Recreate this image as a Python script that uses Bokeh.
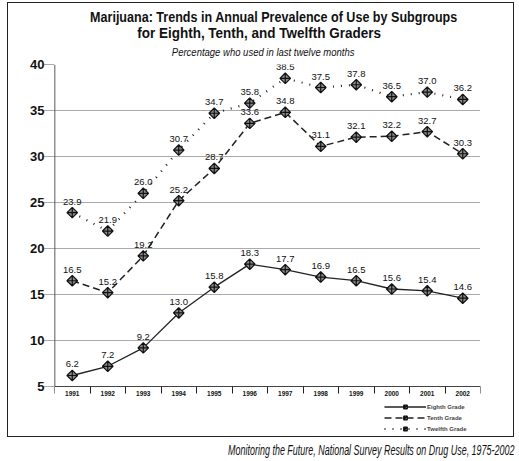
import math
from bokeh.plotting import figure
from bokeh.models import (Range1d, FixedTicker, Legend, LegendItem,
                          ColumnDataSource, Div)
from bokeh.layouts import column
from bokeh.embed import file_html
from bokeh.resources import INLINE

years = [1991, 1992, 1993, 1994, 1995, 1996, 1997, 1998, 1999, 2000, 2001, 2002]
eighth = [6.2, 7.2, 9.2, 13.0, 15.8, 18.3, 17.7, 16.9, 16.5, 15.6, 15.4, 14.6]
tenth = [16.5, 15.2, 19.2, 25.2, 28.7, 33.6, 34.8, 31.1, 32.1, 32.2, 32.7, 30.3]
twelfth = [23.9, 21.9, 26.0, 30.7, 34.7, 35.8, 38.5, 37.5, 37.8, 36.5, 37.0, 36.2]
series_names = ["Eighth Grade", "Tenth Grade", "Twelfth Grade"]
y_ticks = [5, 10, 15, 20, 25, 30, 35, 40]
title_1 = "Marijuana: Trends in Annual Prevalence of Use by Subgroups"
title_2 = "for Eighth, Tenth, and Twelfth Graders"
subtitle = "Percentage who used in last twelve months"
source_note = "Monitoring the Future, National Survey Results on Drug Use, 1975-2002"

FONT = "Liberation Sans"

# ---- heading block (HTML, horizontally condensed) ----
head_html = (
    f'<div style="font-family:{FONT};color:#111;text-align:center;width:505px;">'
    f'<div style="height:6px"></div>'
    f'<div style="font-weight:bold;font-size:15.5px;line-height:16px;white-space:nowrap;">'
    f'<span style="display:inline-block;transform:translateX(13px) scaleX(0.81);">{title_1}</span></div>'
    f'<div style="font-weight:bold;font-size:15.5px;line-height:16px;white-space:nowrap;">'
    f'<span style="display:inline-block;transform:translateX(-1px) scaleX(0.87);">{title_2}</span></div>'
    f'<div style="height:6px"></div>'
    f'<div style="font-style:italic;font-size:10px;line-height:11px;white-space:nowrap;">'
    f'<span style="display:inline-block;transform:translateX(3px) scaleX(0.95);">{subtitle}</span></div>'
    f'</div>'
)
head = Div(text=head_html, width=505, height=55, margin=0)

x_lo, x_hi = years[0] - 0.5, years[-1] + 0.5
p = figure(width=505, height=378, output_backend="svg", toolbar_location=None,
           x_range=Range1d(x_lo, x_hi),
           y_range=Range1d(-0.43, y_ticks[-1]),
           min_border_left=46, min_border_right=33, min_border_top=6,
           min_border_bottom=0, margin=0)
p.outline_line_color = None
p.background_fill_color = "white"
p.border_fill_color = "white"

# x axis sits at the lowest y tick, inside the frame
p.xaxis.fixed_location = y_ticks[0]
p.xaxis.ticker = FixedTicker(ticks=years,
                             minor_ticks=[y - 0.5 for y in years] + [x_hi])
p.xaxis.major_tick_out = 0
p.xaxis.major_tick_in = 0
p.xaxis.minor_tick_out = 7
p.xaxis.minor_tick_in = 0
p.xaxis.minor_tick_line_color = "#222"
p.xaxis.axis_line_color = "#444"
p.xaxis.major_label_text_font = FONT
p.xaxis.major_label_text_font_style = "bold"
p.xaxis.major_label_text_font_size = "6.5px"
p.xaxis.major_label_standoff = -3
p.xaxis.major_label_text_color = "#111"

p.yaxis.ticker = FixedTicker(ticks=y_ticks)
p.yaxis.minor_tick_line_color = None
p.yaxis.major_tick_out = 10
p.yaxis.major_tick_in = 0
p.yaxis.major_tick_line_color = "#555"
p.yaxis.major_tick_line_dash = "1 1"
p.yaxis.axis_line_color = None
p.yaxis.major_label_text_font = FONT
p.yaxis.major_label_text_font_style = "bold"
p.yaxis.major_label_text_font_size = "13px"
p.yaxis.major_label_text_baseline = "bottom"
p.yaxis.major_label_standoff = 0
p.yaxis.major_label_text_color = "#111"
# visible y axis line only between lowest and highest tick
p.segment(x0=[x_lo], y0=[y_ticks[0]], x1=[x_lo], y1=[y_ticks[-1]],
          line_color="#222", line_width=1.5)

p.xgrid.grid_line_color = None
p.ygrid.ticker = FixedTicker(ticks=y_ticks[1:])
p.ygrid.grid_line_color = "#555"
p.ygrid.grid_line_dash = "1 1"
p.ygrid.grid_line_width = 1

styles = [("solid", 1.3), ("7 4", 1.5), ("1 7", 2.2)]
data = [eighth, tenth, twelfth]
items = []
for name, vals, (dash, lw) in zip(series_names, data, styles):
    src = ColumnDataSource(dict(x=years, y=vals, lab=[f"{v:.1f}" for v in vals]))
    ln = p.line("x", "y", source=src, line_color="#222", line_width=lw, line_dash=dash)
    sc = p.scatter("x", "y", source=src, marker="square_x", size=7.5,
                   angle=math.pi / 4, fill_color="#8c8c8c", line_color="#111",
                   line_width=1.2)
    p.text("x", "y", text="lab", source=src, text_font_size="9.5px",
           text_font={"value": FONT}, text_align="center",
           text_baseline="bottom", y_offset=-8, text_color="#111")
    items.append(LegendItem(label=name, renderers=[ln, sc]))

legend = Legend(items=items, location=(330, 3), orientation="vertical",
                glyph_width=42, glyph_height=9, label_height=9, spacing=2,
                padding=0, margin=0, label_standoff=1,
                label_text_font=FONT, label_text_font_style="bold",
                label_text_font_size="6px", border_line_color=None,
                background_fill_alpha=0)
p.add_layout(legend)

box = column(head, p, spacing=0, margin=0,
             styles={"border": "1px solid #222", "background": "white"})

caption_html = (
    f'<div style="text-align:right;width:507px;white-space:nowrap;padding-top:3px;">'
    f'<span style="display:inline-block;font-family:{FONT};font-style:italic;'
    f'font-size:14px;color:#111;transform:scaleX(0.64);transform-origin:right center;">'
    f'{source_note}</span></div>'
)
caption = Div(text=caption_html, width=507, height=20, margin=0)

layout = column(box, caption, spacing=0, margin=(2, 0, 0, 7))
open("out.html", "w").write(file_html(layout, INLINE))
